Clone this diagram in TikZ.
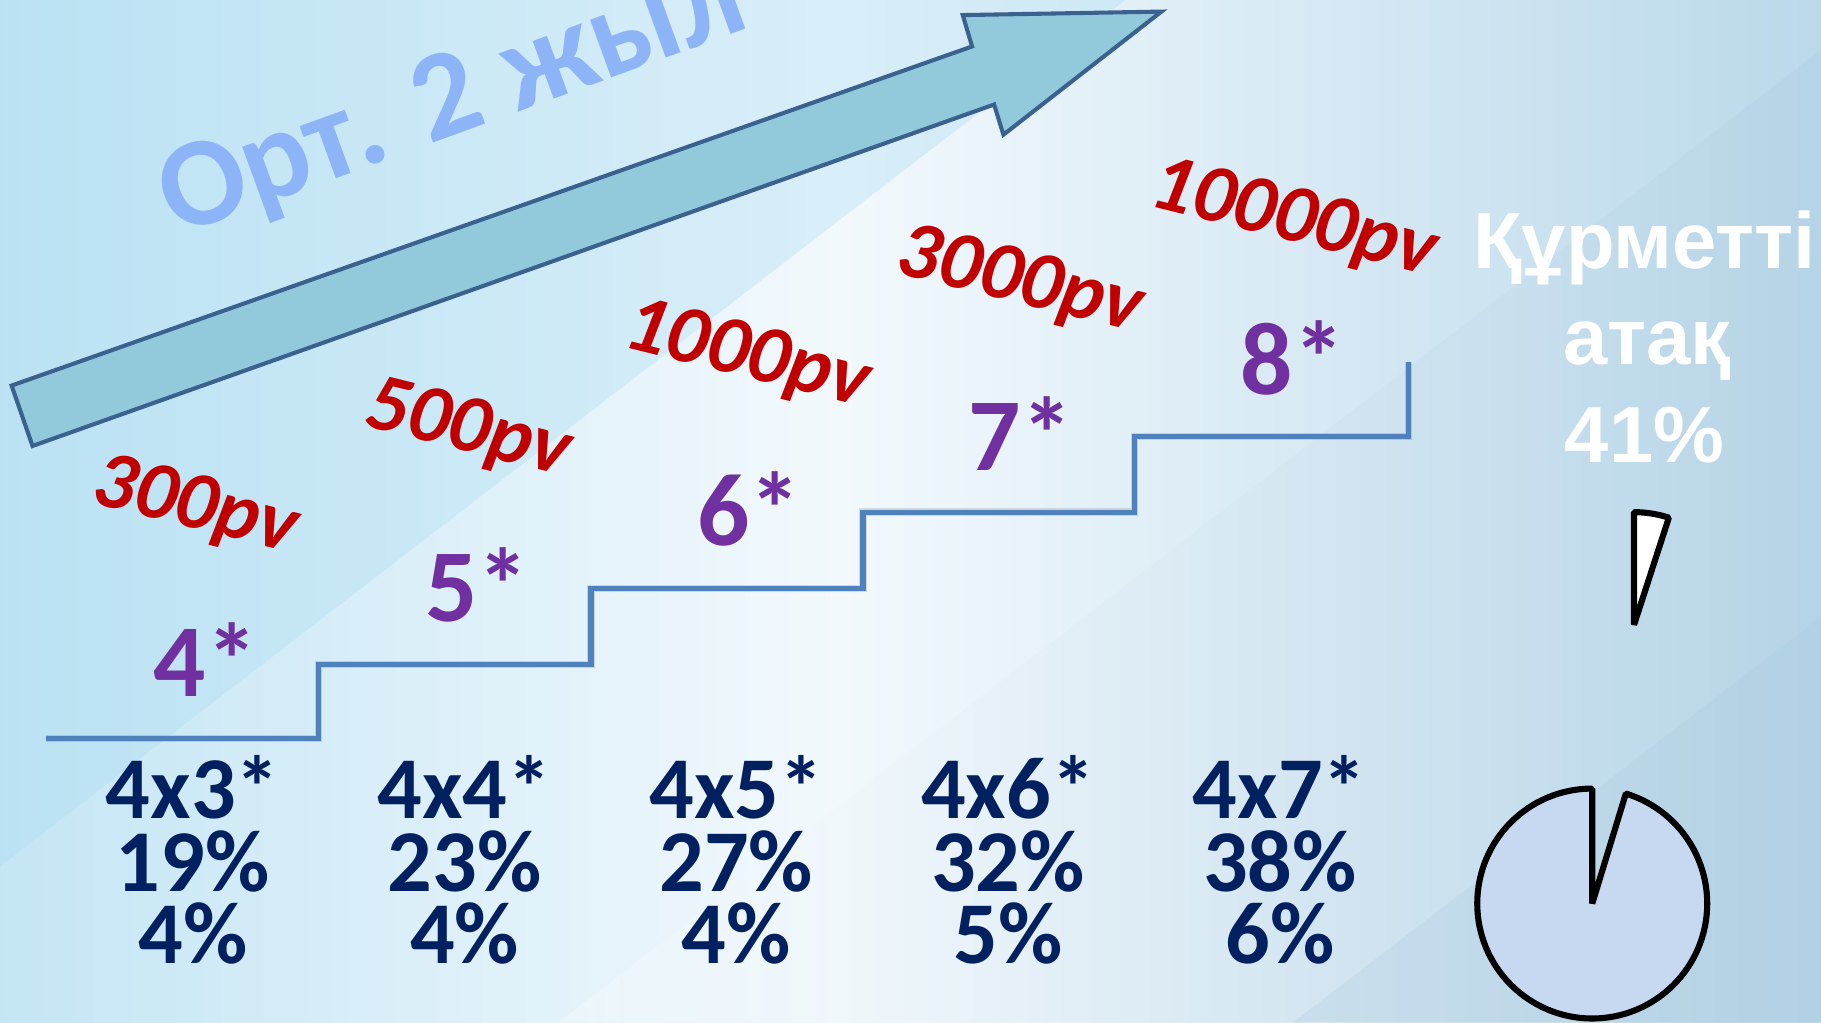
\documentclass[tikz,border=0pt]{standalone}
\usepackage{fontspec}
\setmainfont{Carlito}
\newfontfamily\arialfont{Liberation Sans}
\definecolor{pvred}{RGB}{192,0,0}
\definecolor{starpurple}{RGB}{112,48,160}
\definecolor{navytext}{RGB}{0,32,96}
\definecolor{stairblue}{RGB}{79,129,189}
\definecolor{arrowfill}{RGB}{147,202,219}
\definecolor{arrowline}{RGB}{59,97,143}
\definecolor{titleblue}{RGB}{141,180,246}
\definecolor{piefill}{RGB}{198,217,241}
\definecolor{bandcyan}{RGB}{170,220,242}
\definecolor{banddeep}{RGB}{170,202,224}
\pgfdeclarehorizontalshading{bgshade}{100bp}{rgb(0bp)=(0.77,0.90,0.96); rgb(25bp)=(0.77,0.90,0.96); rgb(48bp)=(0.95,0.975,0.99); rgb(75bp)=(0.73,0.85,0.92); rgb(100bp)=(0.73,0.85,0.92)}
\begin{document}
\begin{tikzpicture}[line join=miter,
    pvlabel/.style={text=pvred, rotate=-14, font=\fontsize{20.2}{24}\selectfont\bfseries\itshape},
    starlabel/.style={text=starpurple, anchor=base, font=\fontsize{25.3}{30}\selectfont\bfseries},
    rate/.style={text=navytext, anchor=base, font=\fontsize{21.6}{26}\selectfont\bfseries},
    honor/.style={text=white, anchor=base, font=\arialfont\fontsize{19.5}{23}\selectfont\bfseries},
    stair/.style={draw=stairblue, line width=1.3pt, line cap=butt},
    slice/.style={line width=1.5pt, line join=bevel}]

  % background
  \useasboundingbox (0,0) rectangle (15.68,8.80);
  \clip (0,0) rectangle (15.68,8.80);
  \shade[shading=bgshade] (0,0) rectangle (15.68,8.80);
  \fill[bandcyan, opacity=0.35] (0,1.34) -- (9.69,8.80) -- (0,8.80) -- cycle;
  \shade[left color=white, right color=banddeep, opacity=0.3] (4.81,0) -- (15.68,8.37) -- (15.68,0) -- cycle;
  \fill[banddeep, opacity=0.25] (11.14,0) -- (15.68,3.49) -- (15.68,0) -- cycle;

  % arrow
  \coordinate (T1) at (0.10,5.48);
  \coordinate (T2) at (0.28,4.96);
  \coordinate (U) at (8.37,8.40);
  \coordinate (H1) at (8.29,8.67);
  \coordinate (Tip) at (10.00,8.70);
  \coordinate (H2) at (8.64,7.64);
  \coordinate (L) at (8.56,7.90);
  \draw[arrowline, fill=arrowfill, line width=1pt] (T1) -- (U) -- (H1) -- (Tip) -- (H2) -- (L) -- (T2) -- cycle;

  \node[text=titleblue, anchor=base west, rotate=20, font=\fontsize{31}{37}\selectfont\bfseries] (title) at (1.40,6.72) {Орт. 2 жыл};

  % stairs
  \coordinate (S0) at (0.40,2.44);
  \coordinate (S1) at (2.74,3.08);
  \coordinate (S2) at (5.09,3.73);
  \coordinate (S3) at (7.43,4.39);
  \coordinate (S4) at (9.77,5.04);
  \coordinate (S5) at (12.13,5.68);
  \begin{scope}[shift={(0.015,-0.03)}]
    \draw[stair, draw=black, opacity=0.12, line width=1.8pt] (S0) -| (S1) -| (S2) -| (S3) -| (S4) -| (S5);
  \end{scope}
  \draw[stair] (S0) -| (S1) -| (S2) -| (S3) -| (S4) -| (S5);

  % pv thresholds
  \node[pvlabel] (pv300) at (1.68,4.43) {300pv};
  \node[pvlabel] (pv500) at (4.03,5.09) {500pv};
  \node[pvlabel] (pv1000) at (6.43,5.73) {1000pv};
  \node[pvlabel] (pv3000) at (8.78,6.37) {3000pv};
  \node[pvlabel] (pv10000) at (11.14,6.90) {10000pv};

  % levels
  \foreach \n [count=\i from 0] in {4,5,6,7,8}
    \node[starlabel] (star\n) at ({1.77+2.34*\i},{2.80+0.65*\i}) {\n*};

  % rates
  \foreach \m/\p/\b [count=\i from 0] in {3/19/4,4/23/4,5/27/4,6/32/5,7/38/6} {
    \node[rate] (mul\m) at ({1.66+2.34*\i},1.75) {4x\m*};
    \node[rate] (pct\m) at ({1.66+2.34*\i},1.12) {\p\%};
    \node[rate] (bon\m) at ({1.66+2.34*\i},0.50) {\b\%};
  }

  % honorary title
  \node[honor] (honor1) at (14.16,6.49) {Құрметті};
  \node[honor] (honor2) at (14.18,5.66) {атақ};
  \node[honor] (honor3) at (14.16,4.82) {41\%};

  % pie
  \coordinate (P) at (13.71,1.02);
  \filldraw[slice, fill=piefill] (P) -- ++(90:0.99) arc[start angle=90, end angle=433, radius=0.99] -- cycle;
  \coordinate (W) at (14.07,3.42);
  \filldraw[slice, fill=white] (W) -- ++(90:0.97) arc[start angle=90, end angle=72, radius=0.97] -- cycle;
\end{tikzpicture}
\end{document}
